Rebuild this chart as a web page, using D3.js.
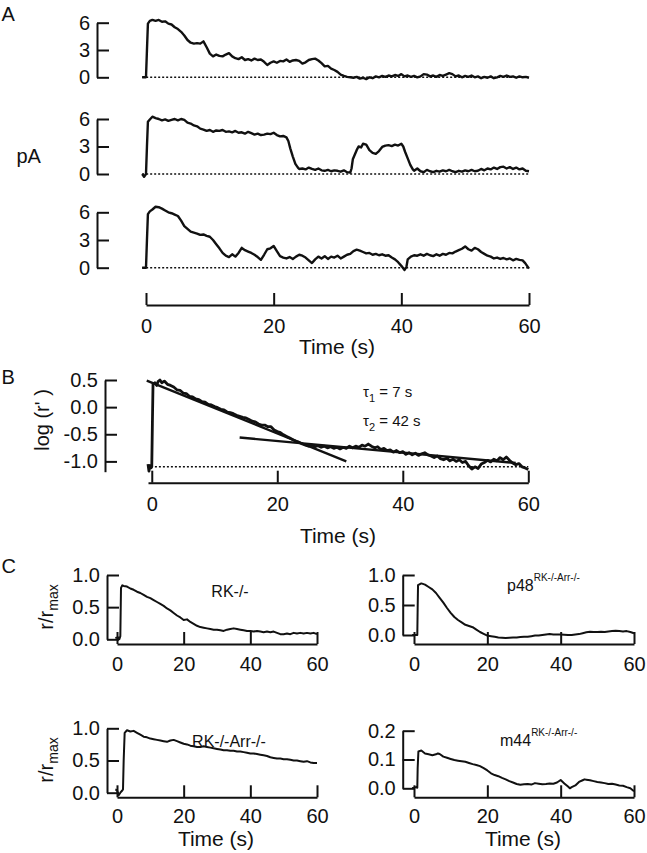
<!DOCTYPE html>
<html><head><meta charset="utf-8">
<script src="https://cdn.jsdelivr.net/npm/d3@7"></script>
<style>
body{margin:0;background:#fff}
svg{display:block;background:#fff}
text,tspan{font-family:"Liberation Sans",Arial,Helvetica,sans-serif;fill:#111}
</style></head><body>
<svg id="fig" width="647" height="853"></svg>
<script>
// ---------- DATA ----------
const timeTicks = [0, 20, 40, 60];
const pATicks = [0, 3, 6];
const logTicks = [0.5, 0.0, -0.5, -1.0];
const relTicks = [0.0, 0.5, 1.0];
const relTicksSmall = [0.0, 0.1, 0.2];

// Panel A: single-photon responses (t [s], pA)
const traceA1 = [[-0.6,0],[0,0],[0.15,3],[0.3,5.9],[0.6,6.2],[1,6.3],[1.5,6.2],[2,6.3],[2.5,6.1],[3,6.15],[3.5,5.9],[4,5.8],[4.5,5.5],[5,5.3],[5.5,5.0],[6,4.6],[6.5,4.1],[7,3.8],[7.5,3.7],[8,3.75],[8.5,3.7],[9,3.95],[9.5,3.3],[10,2.6],[10.5,2.3],[11,2.5],[11.5,2.35],[12,2.3],[12.5,2.5],[13,2.65],[13.5,2.3],[14,2.1],[14.5,2.0],[15,2.2],[15.5,1.9],[16,2.0],[16.5,1.85],[17,2.05],[17.5,1.9],[18,1.95],[18.5,1.7],[19,1.35],[19.5,1.6],[20,1.75],[20.5,1.6],[21,1.8],[21.5,1.75],[22,1.95],[22.5,1.7],[23,1.85],[23.5,1.9],[24,1.8],[24.5,1.5],[25,1.65],[25.5,1.9],[26,2.0],[26.5,2.05],[27,1.85],[27.5,1.55],[28,1.2],[28.5,1.25],[29,0.95],[29.5,0.8],[30,0.6],[30.5,0.3],[31,0.15],[31.5,0.05],[32,0.0],[32.5,-0.05],[33,0.05],[33.5,-0.15],[34,-0.05],[34.5,-0.2],[35,0.0],[35.5,-0.1],[36,0.1],[36.5,0.0],[37,0.15],[37.5,0.05],[38,0.2],[38.5,0.1],[39,0.25],[39.5,0.15],[40,0.35],[40.5,0.1],[41,0.2],[41.5,0.05],[42,0.15],[42.5,0.0],[43,0.1],[43.5,0.35],[44,0.3],[44.5,0.1],[45,0.2],[45.5,0.05],[46,0.25],[46.5,0.15],[47,0.3],[47.5,0.45],[48,0.35],[48.5,0.1],[49,0.2],[49.5,0.0],[50,0.15],[50.5,0.05],[51,0.2],[51.5,0.0],[52,0.1],[52.5,-0.1],[53,0.05],[53.5,-0.05],[54,0.1],[54.5,-0.1],[55,0.0],[55.5,0.15],[56,0.05],[56.5,0.2],[57,0.05],[57.5,0.1],[58,-0.05],[58.5,0.1],[59,0.0],[59.5,0.05],[60,-0.05]];
const traceA2 = [[-0.6,0],[-0.3,-0.3],[0,0],[0.15,3],[0.3,5.7],[0.6,5.95],[1,6.25],[1.5,6.1],[2,6.0],[2.5,5.85],[3,5.95],[3.5,5.8],[4,5.9],[4.5,6.0],[5,5.85],[5.5,6.0],[6,5.9],[6.5,5.6],[7,5.5],[7.5,5.3],[8,5.2],[8.5,4.95],[9,4.85],[9.5,4.7],[10,4.8],[10.5,4.6],[11,4.75],[11.5,4.7],[12,4.8],[12.5,4.6],[13,4.65],[13.5,4.55],[14,4.7],[14.5,4.5],[15,4.55],[15.5,4.4],[16,4.6],[16.5,4.45],[17,4.3],[17.5,4.4],[18,4.25],[18.5,4.3],[19,4.4],[19.5,4.35],[20,4.5],[20.5,4.25],[21,4.1],[21.5,4.15],[22,4.0],[22.3,3.6],[22.6,2.8],[23,1.9],[23.4,1.1],[23.8,0.7],[24,0.55],[24.5,0.6],[25,0.5],[25.5,0.7],[26,0.55],[26.5,0.45],[27,0.6],[27.5,0.4],[28,0.35],[28.5,0.45],[29,0.3],[29.5,0.4],[30,0.35],[30.5,0.25],[31,0.4],[31.5,0.2],[32,0.15],[32.2,0.6],[32.4,1.6],[32.7,2.1],[33,2.6],[33.3,3.0],[33.7,2.9],[34,3.3],[34.5,3.2],[35,2.6],[35.5,2.3],[36,2.2],[36.5,2.5],[37,2.95],[37.5,3.1],[38,3.15],[38.5,3.05],[39,3.2],[39.5,3.1],[40,3.3],[40.3,3.0],[40.6,2.4],[41,1.7],[41.4,1.0],[41.8,0.5],[42,0.35],[42.5,0.6],[43,0.3],[43.5,0.2],[44,0.45],[44.5,0.3],[45,0.2],[45.5,0.35],[46,0.25],[46.5,0.4],[47,0.3],[47.5,0.45],[48,0.3],[48.5,0.2],[49,0.35],[49.5,0.25],[50,0.4],[50.5,0.3],[51,0.45],[51.5,0.3],[52,0.35],[52.5,0.55],[53,0.4],[53.5,0.6],[54,0.5],[54.5,0.7],[55,0.55],[55.5,0.75],[56,0.8],[56.5,0.6],[57,0.75],[57.5,0.55],[58,0.7],[58.5,0.5],[59,0.6],[59.5,0.35],[60,0.3]];
const traceA3 = [[-0.6,0],[0,0],[0.15,3],[0.3,5.8],[0.6,6.1],[1,6.3],[1.5,6.6],[2,6.55],[2.5,6.4],[3,6.2],[3.5,6.0],[4,5.9],[4.5,5.75],[5,5.6],[5.5,5.1],[6,4.5],[6.5,4.2],[7,3.9],[7.5,3.8],[8,3.7],[8.5,3.55],[9,3.6],[9.5,3.45],[10,3.35],[10.5,3.0],[11,2.55],[11.5,2.1],[12,1.6],[12.5,1.3],[13,1.15],[13.5,1.45],[14,1.2],[14.5,1.6],[15,2.15],[15.5,1.9],[16,1.75],[16.5,1.6],[17,1.4],[17.5,1.15],[18,0.85],[18.5,1.4],[19,2.0],[19.5,2.1],[20,2.35],[20.5,1.8],[21,1.25],[21.5,1.1],[22,1.0],[22.5,1.15],[23,0.95],[23.5,1.2],[24,1.4],[24.5,1.3],[25,1.1],[25.5,0.8],[26,0.5],[26.5,0.9],[27,1.2],[27.5,1.0],[28,1.25],[28.5,0.95],[29,1.2],[29.5,1.1],[30,1.3],[30.5,1.0],[31,1.2],[31.5,1.4],[32,1.5],[32.5,1.8],[33,1.95],[33.5,1.85],[34,1.7],[34.5,1.55],[35,1.6],[35.5,1.4],[36,1.5],[36.5,1.35],[37,1.45],[37.5,1.3],[38,1.35],[38.5,1.1],[39,0.9],[39.5,0.6],[40,0.2],[40.5,-0.25],[40.8,0.1],[41,0.9],[41.5,1.2],[42,1.35],[42.5,1.3],[43,1.45],[43.5,1.3],[44,1.5],[44.5,1.35],[45,1.25],[45.5,1.45],[46,1.3],[46.5,1.5],[47,1.4],[47.5,1.6],[48,1.55],[48.5,1.75],[49,1.9],[49.5,2.05],[50,2.3],[50.5,2.0],[51,1.85],[51.5,2.15],[52,2.0],[52.5,1.7],[53,1.5],[53.5,1.3],[54,1.2],[54.5,1.0],[55,1.1],[55.5,0.95],[56,1.05],[56.5,0.9],[57,1.0],[57.5,0.8],[58,0.95],[58.5,0.85],[59,0.8],[59.4,0.5],[59.7,0.2],[60,-0.1]];

// Panel B: log(r') vs time, with two exponential fits
const traceB = [[-0.6,-1.05],[-0.45,-1.18],[-0.3,-1.08],[-0.1,-1.12],[0,-1.1],[0.1,-0.3],[0.2,0.42],[0.5,0.45],[0.8,0.4],[1,0.47],[1.3,0.5],[1.6,0.45],[2,0.48],[2.5,0.42],[3,0.4],[3.5,0.37],[4,0.32],[4.5,0.31],[5,0.26],[5.5,0.25],[6,0.2],[6.5,0.19],[7,0.15],[7.5,0.14],[8,0.1],[8.5,0.09],[9,0.05],[9.5,0.04],[10,0.01],[10.5,-0.01],[11,-0.04],[11.5,-0.05],[12,-0.09],[12.5,-0.1],[13,-0.12],[13.5,-0.15],[14,-0.17],[14.5,-0.19],[15,-0.2],[15.5,-0.23],[16,-0.26],[16.5,-0.27],[17,-0.31],[17.5,-0.33],[18,-0.33],[18.5,-0.36],[19,-0.36],[19.5,-0.42],[20,-0.45],[20.5,-0.47],[21,-0.51],[21.5,-0.54],[22,-0.57],[22.5,-0.6],[23,-0.63],[23.5,-0.65],[24,-0.68],[24.5,-0.7],[25,-0.72],[25.5,-0.7],[26,-0.73],[26.5,-0.71],[27,-0.74],[27.5,-0.72],[28,-0.75],[28.5,-0.73],[29,-0.76],[29.5,-0.74],[30,-0.77],[30.5,-0.74],[31,-0.76],[31.5,-0.72],[32,-0.75],[32.5,-0.72],[33,-0.74],[33.5,-0.7],[34,-0.72],[34.5,-0.68],[35,-0.72],[35.5,-0.75],[36,-0.73],[36.5,-0.78],[37,-0.76],[37.5,-0.8],[38,-0.79],[38.5,-0.83],[39,-0.8],[39.5,-0.84],[40,-0.82],[40.5,-0.87],[41,-0.84],[41.5,-0.88],[42,-0.85],[42.5,-0.89],[43,-0.86],[43.5,-0.84],[44,-0.88],[44.5,-0.9],[45,-0.93],[45.5,-0.9],[46,-0.95],[46.5,-0.97],[47,-0.94],[47.5,-0.99],[48,-0.96],[48.5,-1.0],[49,-0.97],[49.5,-1.02],[50,-1.0],[50.5,-1.08],[51,-1.14],[51.5,-1.1],[52,-1.13],[52.5,-1.05],[53,-1.02],[53.5,-0.98],[54,-1.01],[54.5,-0.96],[55,-0.99],[55.5,-0.93],[56,-0.97],[56.5,-0.92],[57,-0.98],[57.5,-1.03],[58,-1.06],[58.5,-1.04],[59,-1.1],[59.5,-1.12],[60,-1.15]];
const fitFast = [[-0.8,0.49],[31,-1.0]];
const fitSlow = [[14,-0.56],[58,-1.03]];
const baselineB = -1.1;

// Panel C: normalized responses r/rmax
const traceRK = [[-0.5,0.02],[0.3,0.03],[0.7,0.0],[1,0.05],[1.2,0.8],[1.6,0.84],[2,0.83],[3,0.82],[4,0.79],[5,0.77],[6,0.74],[7,0.72],[8,0.69],[9,0.66],[10,0.64],[11,0.61],[12,0.58],[13,0.55],[14,0.52],[15,0.48],[16,0.45],[17,0.41],[18,0.37],[19,0.34],[20,0.3],[21,0.31],[22,0.27],[23,0.24],[24,0.21],[25,0.19],[26,0.18],[27,0.17],[28,0.16],[29,0.15],[30,0.15],[31,0.14],[32,0.13],[33,0.15],[34,0.16],[35,0.17],[36,0.16],[37,0.15],[38,0.14],[39,0.13],[40,0.13],[41,0.12],[42,0.13],[43,0.12],[44,0.11],[45,0.12],[46,0.11],[47,0.12],[48,0.1],[49,0.08],[50,0.08],[51,0.09],[52,0.08],[53,0.1],[54,0.09],[55,0.1],[56,0.09],[57,0.1],[58,0.09],[59,0.1],[60,0.08]];
const traceRKArr = [[-0.5,0.05],[0,0.04],[0.5,-0.04],[1,0.0],[1.5,0.03],[1.8,0.05],[2,0.5],[2.3,0.93],[3,0.97],[4,0.95],[5,0.96],[6,0.93],[7,0.9],[8,0.87],[9,0.86],[10,0.84],[11,0.83],[12,0.82],[13,0.81],[14,0.8],[15,0.79],[16,0.81],[17,0.82],[18,0.8],[19,0.78],[20,0.76],[21,0.75],[22,0.73],[23,0.72],[24,0.71],[25,0.71],[26,0.72],[27,0.71],[28,0.7],[29,0.69],[30,0.68],[31,0.67],[32,0.66],[33,0.66],[34,0.65],[35,0.65],[36,0.64],[37,0.64],[38,0.63],[39,0.62],[40,0.61],[41,0.61],[42,0.6],[43,0.59],[44,0.58],[45,0.57],[46,0.55],[47,0.54],[48,0.53],[49,0.53],[50,0.52],[51,0.52],[52,0.51],[53,0.5],[54,0.5],[55,0.49],[56,0.48],[57,0.49],[58,0.47],[59,0.46],[60,0.46]];
const traceP48 = [[-0.5,0.0],[0.5,0.0],[0.9,0.0],[1,0.45],[1.1,0.83],[2,0.86],[3,0.84],[4,0.8],[5,0.76],[6,0.7],[7,0.62],[8,0.54],[9,0.45],[10,0.37],[11,0.3],[12,0.25],[13,0.21],[14,0.17],[15,0.15],[16,0.13],[17,0.09],[18,0.05],[19,0.02],[20,-0.01],[21,-0.02],[22,-0.03],[23,-0.04],[24,-0.045],[25,-0.05],[26,-0.045],[27,-0.04],[28,-0.04],[29,-0.035],[30,-0.03],[31,-0.03],[32,-0.02],[33,-0.01],[34,-0.01],[35,0.0],[36,0.01],[37,0.015],[38,0.01],[39,0.01],[40,0.01],[41,0.005],[42,0.0],[43,0.0],[44,0.01],[45,0.015],[46,0.03],[47,0.045],[48,0.055],[49,0.05],[50,0.05],[51,0.055],[52,0.05],[53,0.06],[54,0.065],[55,0.07],[56,0.065],[57,0.06],[58,0.065],[59,0.05],[60,0.03]];
const traceM44 = [[-0.5,0.0],[0,0.002],[0.5,0.004],[0.9,0.002],[1,0.07],[1.2,0.128],[2,0.131],[3,0.121],[4,0.118],[5,0.115],[6,0.118],[6.5,0.121],[7,0.119],[8,0.11],[9,0.106],[10,0.102],[11,0.098],[12,0.096],[13,0.094],[14,0.092],[15,0.088],[16,0.084],[17,0.081],[18,0.077],[19,0.07],[20,0.062],[21,0.052],[22,0.046],[23,0.042],[24,0.036],[25,0.031],[26,0.025],[27,0.02],[28,0.015],[29,0.012],[30,0.014],[31,0.015],[32,0.013],[33,0.018],[34,0.016],[35,0.014],[36,0.015],[37,0.017],[38,0.016],[39,0.02],[40,0.029],[41,0.017],[42,0.006],[42.5,0.0],[43,0.004],[44,0.01],[45,0.022],[46,0.028],[46.5,0.031],[47,0.03],[48,0.028],[49,0.025],[50,0.022],[51,0.02],[52,0.018],[53,0.015],[54,0.016],[55,0.013],[56,0.01],[57,0.009],[58,0.004],[59,0.0],[60,-0.01]];

// ---------- DRAWING ----------
const svg = d3.select("#fig");
const INK = "#111";
const TICK_FS = 20;

function yAxis(scale, x, ticks, fmt, pad) {
  const g = svg.append("g").attr("transform", `translate(${x},0)`)
    .call(d3.axisLeft(scale).tickValues(ticks).tickFormat(fmt)
      .tickSizeInner(-12).tickSizeOuter(0).tickPadding(pad));
  styleAxis(g);
  return g;
}
function xAxis(scale, y, pad) {
  const g = svg.append("g").attr("transform", `translate(0,${y})`)
    .call(d3.axisBottom(scale).tickValues(timeTicks).tickFormat(d3.format("d"))
      .tickSizeInner(-12).tickSizeOuter(0).tickPadding(pad));
  styleAxis(g);
  return g;
}
function styleAxis(g) {
  g.select(".domain").attr("stroke", INK).attr("stroke-width", 2);
  g.selectAll(".tick line").attr("stroke", INK).attr("stroke-width", 2);
  g.selectAll(".tick text").attr("font-size", TICK_FS).attr("fill", INK)
    .attr("font-family", "'Liberation Sans', Arial, sans-serif");
}
function trace(data, xs, ys, w) {
  svg.append("path").datum(data)
    .attr("fill", "none").attr("stroke", INK).attr("stroke-width", w)
    .attr("stroke-linejoin", "round")
    .attr("d", d3.line().x(d => xs(d[0])).y(d => ys(d[1])));
}
function dotted(xs, ys, t0, t1, v) {
  svg.append("line").attr("x1", xs(t0)).attr("x2", xs(t1))
    .attr("y1", ys(v)).attr("y2", ys(v))
    .attr("stroke", INK).attr("stroke-width", 1.6).attr("stroke-dasharray", "2,2");
}
function label(txt, x, y, fs, anchor) {
  return svg.append("text").attr("x", x).attr("y", y).attr("font-size", fs)
    .attr("fill", INK).attr("text-anchor", anchor || "middle").text(txt);
}
const f1 = d => d.toFixed(1);

// ----- Panel A -----
const xA = d3.scaleLinear().domain([0, 60]).range([146, 529]);
const aRows = [[77.3, 22.7, traceA1], [174, 119, traceA2], [267.7, 212.3, traceA3]];
aRows.forEach(([y0, y6, data]) => {
  const ys = d3.scaleLinear().domain([0, 6]).range([y0, y6]);
  yAxis(ys, 97, pATicks, d3.format("d"), 7);
  dotted(xA, ys, -0.6, 60, 0);
  trace(data, xA, ys, 2.4);
});
xAxis(xA, 305, 14);
label("Time (s)", 337, 354, 21);
label("A", 1.5, 20.7, 20, "start");
label("pA", 16.5, 163, 20, "start");

// ----- Panel B -----
const xB = d3.scaleLinear().domain([-0.6, 60]).range([148, 528.3]);
const yB = d3.scaleLinear().domain([-1.19, 0.5]).range([471.7, 380]);
yAxis(yB, 105, logTicks, f1, 7);
xAxis(xB, 482.7, 14);
dotted(xB, yB, 0.5, 60, baselineB);
trace(traceB, xB, yB, 2.8);
trace(fitFast, xB, yB, 2.4);
trace(fitSlow, xB, yB, 2.4);
label("Time (s)", 338, 543, 21);
label("B", 1.5, 384.3, 20, "start");
svg.append("text").attr("transform", "translate(49,420) rotate(-90)")
  .attr("text-anchor", "middle").attr("font-size", 20).attr("fill", INK).text("log (r' )");
function tauLabel(sub, rest, y) {
  const t = svg.append("text").attr("x", 363).attr("y", y).attr("font-size", 15).attr("fill", INK);
  t.append("tspan").attr("fill", INK).text("\u03C4");
  t.append("tspan").attr("fill", INK).attr("font-size", 11).attr("dy", 5).text(sub);
  t.append("tspan").attr("fill", INK).attr("dy", -5).text(rest);
}
tauLabel("1", " = 7 s", 397);
tauLabel("2", " = 42 s", 426);

// ----- Panel C -----
label("C", 1.5, 572.7, 20, "start");
const xCL = d3.scaleLinear().domain([0, 60]).range([117, 317]);
const xCR = d3.scaleLinear().domain([0, 60]).range([414, 634]);
const cPanels = [
  {xs: xCL, ax: 107, y0: 639.3, yT: 575, top: 1, ticks: relTicks, xa: 644, pad: 13, data: traceRK},
  {xs: xCR, ax: 402.7, y0: 635, yT: 575, top: 1, ticks: relTicks, xa: 644, pad: 13, data: traceP48},
  {xs: xCL, ax: 107, y0: 792.7, yT: 728.3, top: 1, ticks: relTicks, xa: 797.3, pad: 12, data: traceRKArr},
  {xs: xCR, ax: 402.7, y0: 788.3, yT: 730.7, top: 0.2, ticks: relTicksSmall, xa: 797.3, pad: 12, data: traceM44}
];
cPanels.forEach(p => {
  const ys = d3.scaleLinear().domain([0, p.top]).range([p.y0, p.yT]);
  yAxis(ys, p.ax, p.ticks, f1, 7);
  xAxis(p.xs, p.xa, p.pad);
  trace(p.data, p.xs, ys, 2.0);
});
function rLabel(cy) {
  const t = svg.append("text").attr("transform", `translate(53,${cy}) rotate(-90)`)
    .attr("text-anchor", "middle").attr("font-size", 20).attr("fill", INK);
  t.append("tspan").text("r/r");
  t.append("tspan").attr("font-size", 14).attr("dy", 5).text("max");
}
rLabel(607);
rLabel(760);
label("RK-/-", 230, 597, 16);
label("RK-/-Arr-/-", 229, 746.5, 16);
function supLabel(base, sup, x, y) {
  const t = svg.append("text").attr("x", x).attr("y", y).attr("font-size", 16).attr("fill", INK);
  t.append("tspan").text(base);
  t.append("tspan").attr("font-size", 10).attr("dy", -10).text(sup);
}
supLabel("p48", "RK-/-Arr-/-", 507, 591);
supLabel("m44", "RK-/-Arr-/-", 500, 746);
label("Time (s)", 216, 846, 21);
label("Time (s)", 523, 846, 21);
</script>
</body></html>
